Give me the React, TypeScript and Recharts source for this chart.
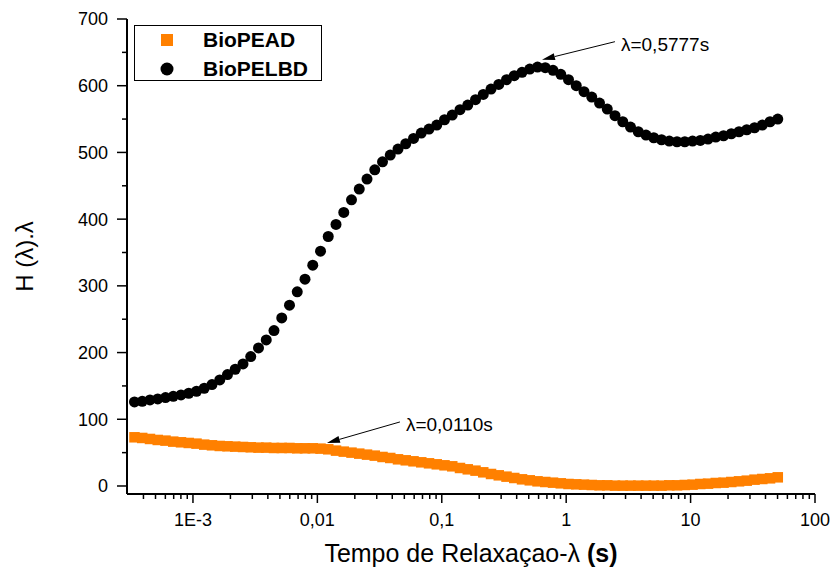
import { ScatterChart, Scatter, XAxis, YAxis, Legend, ReferenceLine, Label } from 'recharts'

const FONT = '"Liberation Sans", Arial, Helvetica, sans-serif'
const ORANGE = '#FF8000'

// relaxation time λ (s)
const lambda = [
  3.388e-4, 3.911e-4, 4.514e-4, 5.211e-4, 6.015e-4, 6.943e-4, 8.014e-4, 9.25e-4,
  1.068e-3, 1.232e-3, 1.422e-3, 1.642e-3, 1.895e-3, 2.187e-3, 2.525e-3, 2.914e-3,
  3.364e-3, 3.882e-3, 4.481e-3, 5.172e-3, 5.97e-3, 6.891e-3, 7.954e-3, 9.182e-3,
  1.06e-2, 1.223e-2, 1.412e-2, 1.63e-2, 1.881e-2, 2.171e-2, 2.506e-2, 2.893e-2,
  3.339e-2, 3.854e-2, 4.448e-2, 5.134e-2, 5.927e-2, 6.841e-2, 7.896e-2, 9.114e-2,
  0.1052, 0.1214, 0.1401, 0.1618, 0.1867, 0.2155, 0.2488, 0.2871,
  0.3314, 0.3826, 0.4416, 0.5097, 0.5883, 0.6791, 0.7838, 0.9047,
  1.044, 1.205, 1.391, 1.606, 1.854, 2.139, 2.469, 2.85,
  3.29, 3.798, 4.383, 5.059, 5.84, 6.741, 7.78, 8.981,
  10.37, 11.97, 13.81, 15.94, 18.4, 21.24, 24.51, 28.29,
  32.66, 37.7, 43.51, 50.22,
]

// H(λ).λ
const bioPELBD = [
  126, 127, 129, 130.5, 132.5, 134.5, 136.5, 139,
  142, 146.5, 152, 159, 167, 175, 183, 194,
  207, 219, 233, 252, 271, 291, 310, 331,
  352, 374, 392, 410, 429, 445, 460, 474,
  486, 496, 505, 513, 521, 529, 535, 541,
  549, 556, 564, 571, 579, 587, 595, 602,
  609, 615, 620, 625, 628, 627, 623, 617,
  609, 600, 591, 583, 574, 565, 555, 546,
  538, 531, 526, 522, 519, 517, 516, 516,
  517, 518, 520, 523, 525, 528, 531, 534,
  537, 541, 546, 550,
]

const bioPEAD = [
  73, 72, 70.5, 69, 68, 66.5, 65.5, 64.5,
  63.5, 62, 61, 60, 59.5, 59, 58.5, 58,
  57.5, 57.5, 57, 57, 57, 56.5, 56.5, 56.5,
  56, 55, 53, 51.5, 50, 48.5, 47, 45.5,
  43.5, 42, 40, 38.5, 37, 35.5, 34, 32.5,
  31, 29.5, 27, 25, 23, 20.5, 18, 16,
  14, 12, 10, 8.5, 7, 6, 5, 4,
  3, 2.5, 2, 1.5, 1, 1, 0.5, 0.5,
  0.5, 0.5, 0.5, 0.5, 0.5, 1, 1, 1.5,
  2, 3, 3.5, 4.5, 5, 6, 7, 8,
  9.5, 10.5, 11.5, 13,
]

const xMajor = [0.001, 0.01, 0.1, 1, 10, 100]
const xMajorLabels = ['1E-3', '0,01', '0,1', '1', '10', '100']
const xDecades = [1e-4, 1e-3, 0.01, 0.1, 1, 10]
const xMinorSteps = [2, 3, 4, 5, 6, 7, 8, 9]
const xMinor = xDecades.flatMap((d) => xMinorSteps.map((m) => m * d)).filter((v) => v > 3.5e-4)

const yMajor = [0, 100, 200, 300, 400, 500, 600, 700]
const yMinor = [50, 150, 250, 350, 450, 550, 650]

const frameTicks = [0, 1, 2, 3, 4, 5, 6, 7, 8, 9, 10]

const annotations = [
  { text: 'λ=0,5777s', from: { x: 2.466, y: 666 }, to: { x: 0.639, y: 639 } },
  { text: 'λ=0,0110s', from: { x: 0.0461, y: 96 }, to: { x: 0.01194, y: 64.5 } },
]

const peadData = lambda.map((x, i) => ({ x, y: bioPEAD[i] }))
const pelbdData = lambda.map((x, i) => ({ x, y: bioPELBD[i] }))

const SquareMark = (p: any) => (
  <rect x={p.cx - 5.25} y={p.cy - 5.25} width={10.5} height={10.5} fill={ORANGE} />
)
const CircleMark = (p: any) => <circle cx={p.cx} cy={p.cy} r={5.5} fill="#000" />

const XTick = (props: any) => {
  const { x, y, payload } = props
  const idx = xMajor.indexOf(payload.value)
  const major = idx >= 0
  return (
    <g>
      <line x1={x} x2={x} y1={y} y2={y + (major ? 9 : 5)} stroke="#000" strokeWidth={1.5} />
      {major && (
        <text x={x} y={y + 32} textAnchor="middle" fontSize={18} fontFamily={FONT} fill="#000">
          {xMajorLabels[idx]}
        </text>
      )}
    </g>
  )
}

const YTick = (props: any) => {
  const { x, y, payload } = props
  const major = yMajor.includes(payload.value)
  return (
    <g>
      <line x1={x} x2={x - (major ? 10 : 5)} y1={y} y2={y} stroke="#000" strokeWidth={1.5} />
      {major && (
        <text x={x - 19} y={y} dy="0.36em" textAnchor="end" fontSize={18} fontFamily={FONT} fill="#000">
          {payload.value}
        </text>
      )}
    </g>
  )
}

const XTitle = (props: any) => {
  const { x, y, width } = props.viewBox
  return (
    <text x={x + width / 2} y={y + 68} textAnchor="middle" fontSize={25} fontFamily={FONT} fill="#000">
      Tempo de Relaxaçao-λ <tspan fontWeight="bold">(s)</tspan>
    </text>
  )
}

const YTitle = (props: any) => {
  const { x, y, height } = props.viewBox
  const cx = x + 24
  const cy = y + height / 2
  return (
    <text
      x={cx}
      y={cy}
      dy="0.36em"
      transform={`rotate(-90 ${cx} ${cy})`}
      textAnchor="middle"
      fontSize={24}
      fontFamily={FONT}
      fill="#000"
    >
      H (λ).λ
    </text>
  )
}

const arrowShape = (text: string) => (p: any) => {
  const { x1, y1, x2, y2 } = p
  const dx = x2 - x1
  const dy = y2 - y1
  const len = Math.sqrt(dx * dx + dy * dy)
  const ux = dx / len
  const uy = dy / len
  const hl = 13
  const hw = 3.5
  const bx = x2 - ux * hl
  const by = y2 - uy * hl
  const pts = `${x2},${y2} ${bx - uy * hw},${by + ux * hw} ${bx + uy * hw},${by - ux * hw}`
  return (
    <g>
      <line x1={x1} y1={y1} x2={bx} y2={by} stroke="#000" strokeWidth={1} />
      <polygon points={pts} fill="#000" />
      <text x={x1 + 6} y={y1 + 2} dy="0.36em" fontSize={19} fontFamily={FONT} fill="#000">
        {text}
      </text>
    </g>
  )
}

const LegendBox = (props: any) => {
  const { payload } = props
  return (
    <div
      style={{
        width: 188,
        height: 56,
        border: '1px solid #000',
        boxSizing: 'border-box',
        background: '#fff',
        position: 'relative',
        fontFamily: FONT,
      }}
    >
      {(payload || []).map((entry: any, i: number) => (
        <div
          key={entry.value}
          style={{ position: 'absolute', left: 0, top: 1 + i * 29, height: 26, display: 'flex', alignItems: 'center' }}
        >
          <svg width={66} height={26}>
            {entry.type === 'square' ? (
              <rect x={26} y={7} width={12} height={12} fill={entry.color} />
            ) : (
              <circle cx={32} cy={13} r={6.5} fill={entry.color} />
            )}
          </svg>
          <span style={{ fontWeight: 'bold', fontSize: 21, color: '#000', marginLeft: 2 }}>{entry.value}</span>
        </div>
      ))}
    </div>
  )
}

export default function App() {
  return (
    <div style={{ position: 'absolute', left: 0, top: 0, width: 833, height: 572, background: '#fff' }}>
      <ScatterChart width={833} height={572} margin={{ top: 19, right: 18, bottom: 0, left: 0 }}>
        <XAxis
          dataKey="x"
          type="number"
          scale="log"
          domain={[2.95e-4, 100]}
          allowDataOverflow
          ticks={[...xMinor, ...xMajor]}
          interval={0}
          height={78}
          tickLine={false}
          tickSize={0}
          tickMargin={0}
          tick={<XTick />}
          axisLine={{ stroke: '#000', strokeWidth: 2 }}
        >
          <Label content={<XTitle />} />
        </XAxis>
        <YAxis
          dataKey="y"
          type="number"
          domain={[-12, 700]}
          allowDataOverflow
          ticks={[...yMinor, ...yMajor]}
          interval={0}
          width={127}
          tickLine={false}
          tickSize={0}
          tickMargin={0}
          tick={<YTick />}
          axisLine={{ stroke: '#000', strokeWidth: 2 }}
        >
          <Label content={<YTitle />} />
        </YAxis>
        <XAxis
          xAxisId="top"
          orientation="top"
          type="number"
          domain={[0, 10]}
          ticks={frameTicks}
          height={0}
          tick={false}
          tickSize={3}
          axisLine={{ stroke: '#000', strokeWidth: 1.5 }}
          tickLine={{ stroke: '#555', strokeWidth: 1 }}
        />
        <YAxis
          yAxisId="right"
          orientation="right"
          type="number"
          domain={[0, 10]}
          ticks={frameTicks}
          width={0}
          mirror
          tick={false}
          tickSize={4}
          axisLine={{ stroke: '#000', strokeWidth: 1.5 }}
          tickLine={{ stroke: '#555', strokeWidth: 1 }}
        />
        <Legend
          layout="vertical"
          align="center"
          verticalAlign="middle"
          content={<LegendBox />}
          wrapperStyle={{ left: 134, top: 25, width: 188, height: 56 }}
        />
        <Scatter
          name="BioPEAD"
          data={peadData}
          fill={ORANGE}
          legendType="square"
          shape={SquareMark}
          isAnimationActive={false}
        />
        <Scatter
          name="BioPELBD"
          data={pelbdData}
          fill="#000"
          legendType="circle"
          shape={CircleMark}
          isAnimationActive={false}
        />
        {annotations.map((a) => (
          <ReferenceLine
            key={a.text}
            segment={[a.from, a.to]}
            stroke="#000"
            ifOverflow="visible"
            shape={arrowShape(a.text)}
          />
        ))}
      </ScatterChart>
    </div>
  )
}
